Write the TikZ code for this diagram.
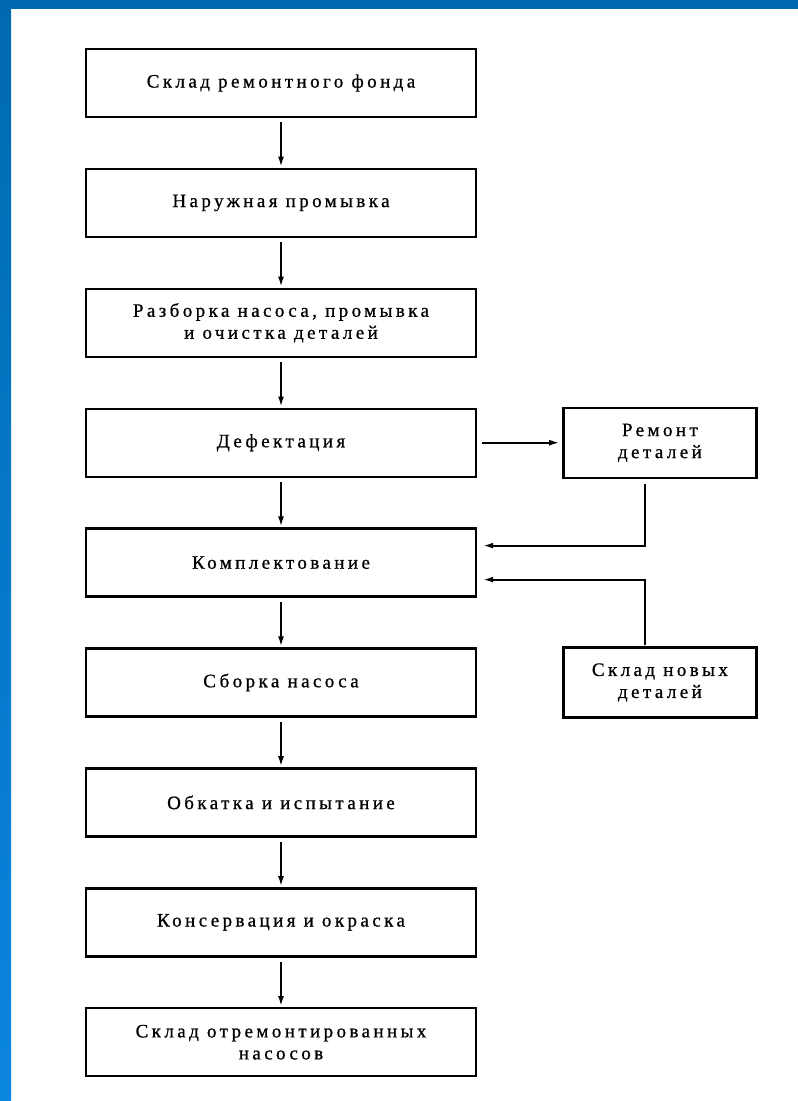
\documentclass[tikz,border=0pt]{standalone}
\usepackage{fontspec}
\setmainfont{Liberation Serif}
\usetikzlibrary{positioning, arrows.meta, calc}
\definecolor{frameblue}{RGB}{0, 106, 176}
\definecolor{framelight}{RGB}{10, 133, 224}

\begin{document}
\begin{tikzpicture}[x=1pt, y=-1pt,
    stepbox/.style={draw, line width=2.4pt, minimum width=390pt, minimum height=68pt,
          align=center, inner sep=2pt,
          font=\fontsize{19}{22}\selectfont\addfontfeatures{LetterSpace=18, FakeBold=0.8}},
    sidebox/.style={stepbox, minimum width=193pt, minimum height=70pt},
    flow/.style={-{Latex[length=10pt, width=6pt]}, line width=1.8pt,
          shorten >=1pt, shorten <=4pt},
    node distance=49.5pt]
    % page and blue frame
    \useasboundingbox (0,0) rectangle (798,1101);
    \fill[white] (0,0) rectangle (798,1101);
    \fill[frameblue] (0,0) rectangle (798,9);
    \shade[top color=frameblue, bottom color=framelight] (0,0) rectangle (11,1101);

    % main chain
    \node[stepbox] (store) at (281,83) {Склад ремонтного фонда};
    \node[stepbox, below=of store] (wash) {Наружная промывка};
    \node[stepbox, below=of wash] (strip) {Разборка насоса, промывка\\и очистка деталей};
    \node[stepbox, below=of strip] (defect) {Дефектация};
    \node[stepbox, below=of defect] (kit) {Комплектование};
    \node[stepbox, below=of kit] (assy) {Сборка насоса};
    \node[stepbox, below=of assy] (test) {Обкатка и испытание};
    \node[stepbox, below=of test] (paint) {Консервация и окраска};
    \node[stepbox, below=of paint] (done) {Склад отремонтированных\\насосов};

    % side boxes
    \node[sidebox, right=85pt of defect] (repair) {Ремонт\\деталей};
    \node[sidebox, right=85pt of assy] (newparts) {Склад новых\\деталей};

    % connectors
    \draw[flow] (store) -- (wash);
    \draw[flow] (wash) -- (strip);
    \draw[flow] (strip) -- (defect);
    \draw[flow] (defect) -- (kit);
    \draw[flow] (kit) -- (assy);
    \draw[flow] (assy) -- (test);
    \draw[flow] (test) -- (paint);
    \draw[flow] (paint) -- (done);
    \draw[flow, shorten <=5pt, shorten >=3pt] (defect) -- (repair);
    \draw[flow, shorten <=5pt, shorten >=6pt] ($(repair.south)+(-15,0)$) |- ($(kit.east)+(0,-17)$);
    \draw[flow, shorten <=1pt, shorten >=6pt] ($(newparts.north)+(-15,0)$) |- ($(kit.east)+(0,17)$);
\end{tikzpicture}
\end{document}
